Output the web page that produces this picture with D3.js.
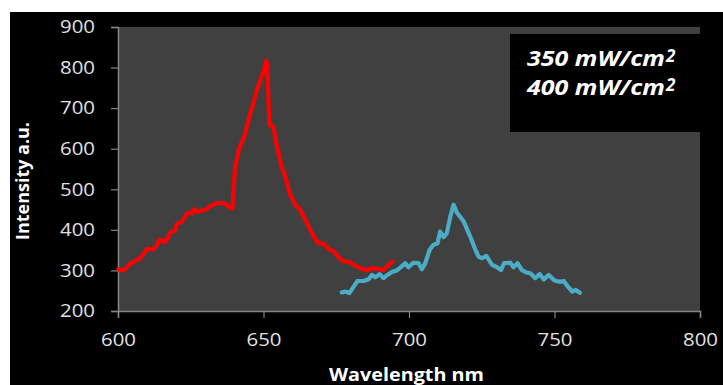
<!DOCTYPE html>
<html><head><meta charset="utf-8">
<script src="https://cdn.jsdelivr.net/npm/d3@7/dist/d3.min.js"></script>
<style>html,body{margin:0;padding:0;background:#fff;}svg{display:block;}</style>
</head><body>
<svg id="c" width="723" height="385"></svg>
<script>
const seriesNames = ["350 mW/cm", "400 mW/cm"];
const seriesSup = "2";
const seriesColors = ["#ff0000", "#4bacc6"];
const xTicks = [600, 650, 700, 750, 800];
const yTicks = [200, 300, 400, 500, 600, 700, 800, 900];

const redWave = [600.1,602,604.1,607.6,610.1,611.9,613.3,614.2,616.2,618.1,619.6,620.2,621.9,623.8,625.3,626.1,627.2,630.4,631.6,633.9,636.2,637.9,639.3,640.2,641.4,642.2,643.3,645.4,647.7,650.0,650.9,651.3,652.0,653.4,654.6,656.3,657.5,658.9,660.9,662.6,664.9,667.2,668.9,670.6,672.3,674.1,675.8,677.5,679.2,681.0,683.2,685.5,687.2,689.5,691.2,692.6,694.4];
const redInt = [303,300,316,330,354,351,361,376,370,395,398,415,419,442,440,451,444,451,458,466,466,458,452,553,594,611,627,685,743,792,817,804,660,654,606,553,532,491,462,450,417,384,367,366,353,347,333,322,322,314,306,300,306,303,301,311,322];

const cyanWave = [676.9,678.4,679.5,681.0,682.3,684.4,686.1,687.3,688.4,689.9,691.2,692.6,694.1,695.8,697.2,698.7,699.8,701.5,703.3,704.4,705.6,707.1,708.4,709.8,710.7,711.9,713.0,714.2,715.3,716.5,718.8,721.0,722.8,723.9,725.1,726.6,728.5,730.2,731.6,732.7,734.8,735.9,737.3,738.8,740.3,741.7,743.4,744.9,746.3,748.0,750.0,751.8,753.2,754.6,756.1,757.3,758.7];
const cyanInt = [246,248,244,260,274,274,278,289,283,291,281,289,296,300,308,318,308,319,318,303,318,351,363,367,396,382,392,433,462,442,421,384,351,334,330,336,314,308,301,318,319,308,318,301,295,293,281,291,278,289,275,272,274,260,248,252,245];

const svg = d3.select("#c");
const font = "'Open Sans', 'DejaVu Sans', sans-serif";

svg.append("rect").attr("x",10).attr("y",12).attr("width",713).attr("height",373).attr("fill","#000");

const L = 118, R = 700, T = 27, B = 311;
const x = d3.scaleLinear().domain([600,800]).range([L,R]);
const y = d3.scaleLinear().domain([200,900]).range([B,T]);

svg.append("rect").attr("x",L).attr("y",T).attr("width",R-L).attr("height",B-T).attr("fill","#404040");

const xAxis = svg.append("g").attr("transform",`translate(0,${B})`)
  .call(d3.axisBottom(x).tickValues(xTicks).tickSize(7).tickPadding(15).tickFormat(d3.format("d")));
const yAxis = svg.append("g").attr("transform",`translate(${L},0)`)
  .call(d3.axisLeft(y).tickValues(yTicks).tickSize(7).tickPadding(16).tickFormat(d3.format("d")));
[xAxis,yAxis].forEach(a=>{
  a.select(".domain").attr("stroke","#868686").attr("stroke-width",1.5);
  a.selectAll(".tick line").attr("stroke","#868686").attr("stroke-width",1.2);
  a.selectAll(".tick text").attr("fill","#e0e0e0").attr("font-size","18px").attr("font-family",font)
    .attr("textLength",35).attr("lengthAdjust","spacingAndGlyphs");
});

const line = d3.line().x(d=>x(d[0])).y(d=>y(d[1]));
const sets = [d3.zip(redWave, redInt), d3.zip(cyanWave, cyanInt)];
sets.forEach((s,i)=>{
  svg.append("path").datum(s).attr("d",line).attr("fill","none")
    .attr("stroke",seriesColors[i]).attr("stroke-width",4.2).attr("stroke-linejoin","round").attr("stroke-linecap","round");
});

// legend box
svg.append("rect").attr("x",510).attr("y",34).attr("width",190).attr("height",98).attr("fill","#000");
seriesNames.forEach((n,i)=>{
  const by = 66 + i*29;
  svg.append("text").attr("x",527).attr("y",by).attr("fill","#fff")
    .attr("font-family",font).attr("font-weight","bold").attr("font-style","italic").attr("font-size","21px")
    .attr("textLength",138).attr("lengthAdjust","spacingAndGlyphs")
    .text(n);
  svg.append("text").attr("x",666).attr("y",by-4).attr("fill","#fff")
    .attr("font-family",font).attr("font-weight","bold").attr("font-style","italic").attr("font-size","17px")
    .text(seriesSup);
});

svg.append("text").attr("x",406.5).attr("y",381).attr("text-anchor","middle").attr("fill","#fff")
  .attr("font-family",font).attr("font-weight","bold").attr("font-size","18px")
  .attr("textLength",155).attr("lengthAdjust","spacingAndGlyphs").text("Wavelength nm");
svg.append("text").attr("transform","translate(29,181) rotate(-90)").attr("text-anchor","middle").attr("fill","#fff")
  .attr("font-family",font).attr("font-weight","bold").attr("font-size","18px")
  .attr("textLength",118).attr("lengthAdjust","spacingAndGlyphs").text("Intensity a.u.");
</script>
</body></html>
